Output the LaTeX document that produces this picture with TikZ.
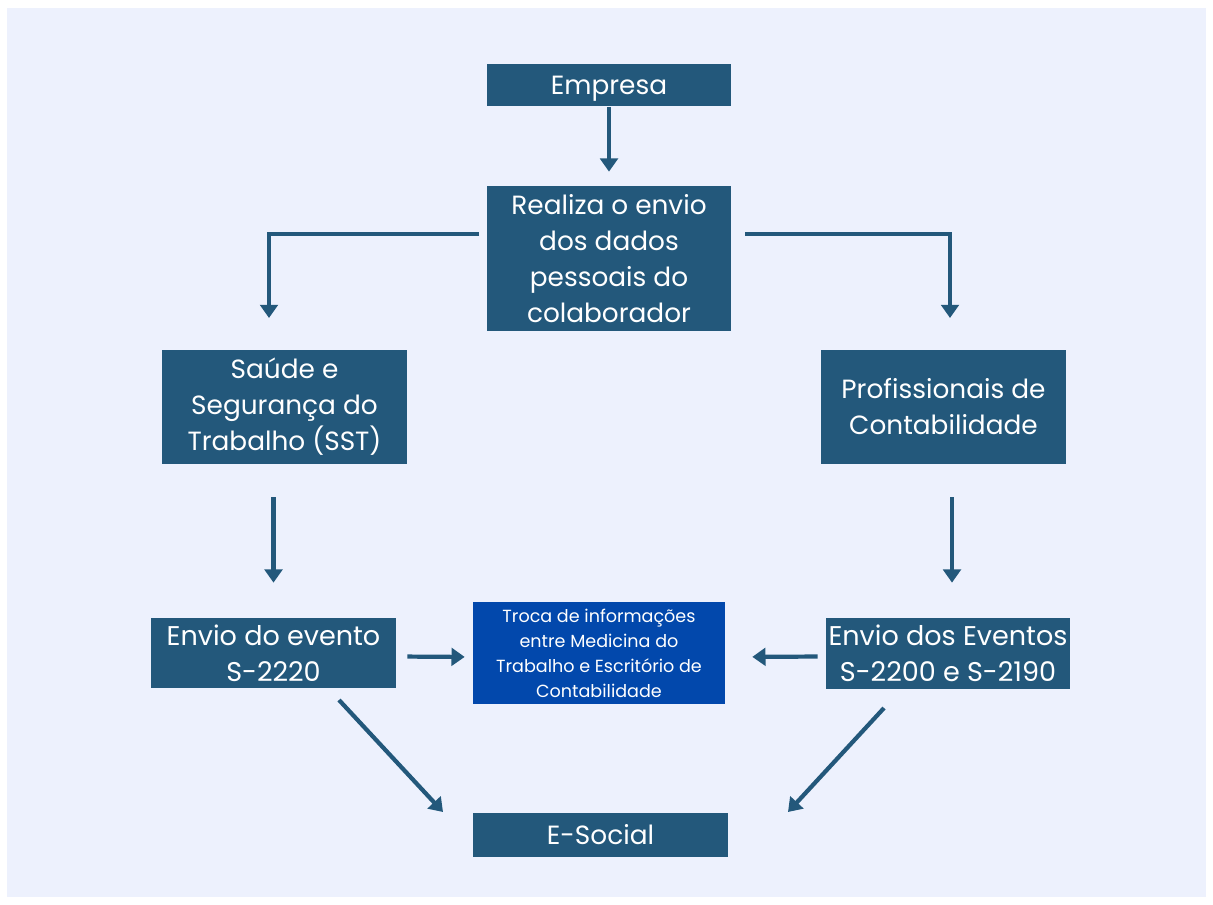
\documentclass[tikz,border=0pt]{standalone}
\usepackage{fontspec}
\setmainfont{Poppins}
\usetikzlibrary{arrows.meta,positioning}
\definecolor{boxblue}{HTML}{23587B}
\definecolor{midblue}{HTML}{0248AC}
\definecolor{bgblue}{HTML}{EDF1FD}
\begin{document}
\begin{tikzpicture}[
        x=0.02cm, y=-0.02cm,
        box/.style={fill=boxblue, text=white, align=center, inner sep=0pt, font=\fontsize{15}{20.5}\selectfont},
        bigbox/.style={box, font=\fontsize{15.4}{20.5}\selectfont},
        arrow/.style={-{Triangle[length=7.5pt,width=10pt]}, line width=2.4pt, draw=boxblue}
    ]
        \fill[white] (0,0) rectangle (1213,905);
        \fill[bgblue] (7,8) rectangle (1206,897);

        \node[box, minimum width=4.88cm, minimum height=0.84cm, text depth=0pt] (empresa) at (609,85) {Empresa};
        \node[box, minimum width=4.88cm, minimum height=2.9cm] (realiza) at (609,258.5) {Realiza o envio\\dos dados\\pessoais do\\colaborador};
        \node[box, minimum width=4.9cm, minimum height=2.28cm] (sst) at (284.5,407) {Saúde e\\Segurança do\\Trabalho (SST)};
        \node[box, minimum width=4.9cm, minimum height=2.28cm] (prof) at (943.5,407) {Profissionais de\\Contabilidade};
        \node[bigbox, minimum width=4.9cm, minimum height=1.42cm] (envio1) at (273.5,653) {Envio do evento\\S-2220};
        \node[bigbox, minimum width=4.88cm, minimum height=1.44cm] (envio2) at (948,653.5) {Envio dos Eventos\\S-2200 e S-2190};
        \node[box, fill=midblue, minimum width=5.04cm, minimum height=2.04cm, font=\fontsize{10}{14.2}\selectfont] (troca) at (599,653) {Troca de informações\\entre Medicina do\\Trabalho e Escritório de\\Contabilidade};
        \node[box, minimum width=5.1cm, minimum height=0.88cm] (esocial) at (600.5,835) {E-Social};

        % pontos soltos das setas
        \coordinate (lstart) at (479,234);
        \coordinate (lend) at (269,318);
        \coordinate (rstart) at (745,234);
        \coordinate (rend) at (950,318);
        \coordinate (dlstart) at (339,700);
        \coordinate (dlend) at (443,812);
        \coordinate (drstart) at (884,708);
        \coordinate (drend) at (788,812);

        \draw[arrow, shorten <=0.02cm, shorten >=0.28cm] (empresa) -- (realiza);
        \draw[arrow] (lstart) -| (lend);
        \draw[arrow] (rstart) -| (rend);
        \draw[arrow, shorten <=0.66cm, shorten >=0.69cm] (sst.south -| envio1.north) -- (envio1.north);
        \draw[arrow, shorten <=0.66cm, shorten >=0.69cm] ([xshift=0.08cm]prof.south -| envio2.north) -- ([xshift=0.08cm]envio2.north);
        \draw[arrow, shorten <=0.22cm, shorten >=0.16cm] ([yshift=-0.07cm]envio1.east) -- ([yshift=-0.08cm]troca.west);
        \draw[arrow, shorten <=0.16cm, shorten >=0.54cm] ([yshift=-0.06cm]envio2.west) -- ([yshift=-0.08cm]troca.east);
        \draw[arrow] (dlstart) -- (dlend);
        \draw[arrow] (drstart) -- (drend);
    \end{tikzpicture}
\end{document}
